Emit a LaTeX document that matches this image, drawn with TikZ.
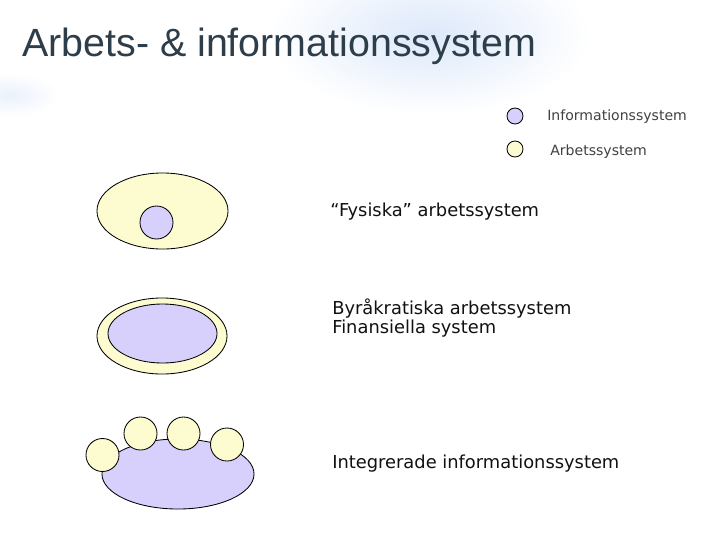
\documentclass[tikz,border=0pt]{standalone}
\usepackage{fontspec}
\setmainfont{DejaVu Sans}
\newfontfamily\titlefont{Liberation Sans}
\usepackage{xcolor}
\usepackage{tikz}
\usetikzlibrary{shapes.geometric,positioning}
\definecolor{infofill}{HTML}{D8D0FC}
\definecolor{arbfill}{HTML}{FCFCD0}
\definecolor{titlecol}{HTML}{2E3D4A}
\definecolor{labelcol}{HTML}{111111}
\definecolor{glow}{HTML}{DCE8FA}

\begin{document}
\begin{tikzpicture}[x=0.025cm,y=-0.025cm,
  isys/.style={ellipse,draw,line width=0.6pt,fill=infofill,inner sep=0pt},
  asys/.style={ellipse,draw,line width=0.6pt,fill=arbfill,inner sep=0pt},
  dot/.style={minimum width=0.825cm,minimum height=0.825cm},
  legdot/.style={minimum width=0.4cm,minimum height=0.4cm},
  lbl/.style={font=\fontsize{12.7}{13.8}\selectfont,text=labelcol,inner sep=0pt,align=left},
  leg/.style={font=\fontsize{10}{12}\selectfont,text=labelcol!80,inner sep=0pt}
]
\useasboundingbox (0,0) rectangle (720,540);
\fill[white] (0,0) rectangle (720,540);
% soft background glow
\shade[inner color=glow,outer color=white] (430,35) ellipse (160 and 80);
\shade[inner color=glow!60!white,outer color=white] (10,95) ellipse (50 and 22);

% title
\node[anchor=base west,inner sep=0pt,text=titlecol,
      font=\titlefont\fontsize{28}{32}\selectfont] (title) at (22,56) {Arbets- \& informationssystem};

% legend
\node[isys,legdot] (leginfo) at (515,116) {};
\node[asys,legdot] (legarb) at (515,149) {};
\node[leg,anchor=west] (leginfotxt) at (547,117) {Informationssystem};
\node[leg,anchor=west] (legarbtxt) at (550,152) {Arbetssystem};

% fysiska arbetssystem
\node[asys,minimum width=3.275cm,minimum height=1.9cm] (fys) at (162.5,211) {};
\node[isys,dot] (fysinfo) at (156.5,222.5) {};
\node[lbl,anchor=base west] (fystxt) at (330,216) {“Fysiska” arbetssystem};

% byrakratiska arbetssystem
\node[asys,minimum width=3.25cm,minimum height=1.9cm] (byr) at (162,336) {};
\node[isys,minimum width=2.725cm,minimum height=1.475cm] (byrinfo) at (162.5,333.5) {};
\node[lbl,anchor=west] (byrtxt) at (332,318) {Byråkratiska arbetssystem\\Finansiella system};

% integrerade informationssystem
\node[isys,minimum width=3.8cm,minimum height=1.75cm] (integ) at (178,474) {};
\foreach \cx/\cy/\nm in {102.5/455/a,140.5/433.5/b,183.5/433.5/c,227/444.5/d}
  \node[asys,dot] (integ\nm) at (\cx,\cy) {};
\node[lbl,anchor=base west] (integtxt) at (332,468) {Integrerade informationssystem};
\end{tikzpicture}
\end{document}
